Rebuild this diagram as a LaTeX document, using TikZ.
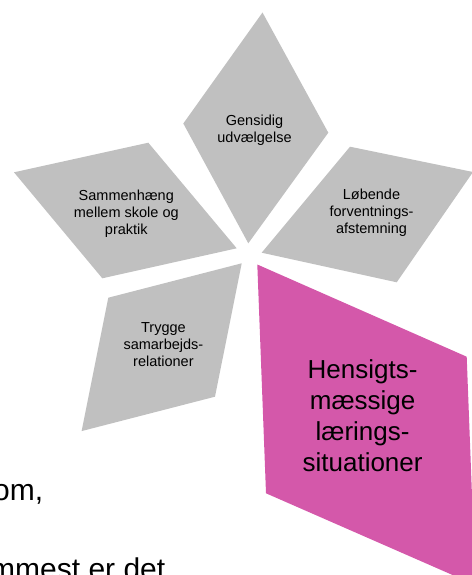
\documentclass[tikz,border=0pt]{standalone}
\usepackage{fontspec}
\setmainfont{Liberation Sans}
\definecolor{petal}{RGB}{192,192,192}
\definecolor{accent}{RGB}{212,88,170}
\begin{document}
\begin{tikzpicture}[x=1pt,y=-1pt,
  petalshape/.style={fill=petal,draw=none},
  accentshape/.style={fill=accent,draw=none},
  smalllabel/.style={align=center,inner sep=0pt,text=black,font=\fontsize{14.5}{16.8}\selectfont},
  biglabel/.style={align=center,inner sep=0pt,text=black,font=\fontsize{26}{31}\selectfont},
  pagetext/.style={inner sep=0pt,anchor=base west,text=black,font=\fontsize{30}{36}\selectfont}]
\useasboundingbox (0,0) rectangle (471,575);
% petals
\fill[petalshape] (262.5,12.5) -- (328.3,132.7) -- (248.3,243.3) -- (183.3,123.5) -- cycle;
\fill[petalshape] (14,172.3) -- (148.3,142.7) -- (236.7,248.3) -- (102.3,278.3) -- cycle;
\fill[petalshape] (350,146.7) -- (473,172) -- (396.7,282.3) -- (261.7,252.7) -- cycle;
\fill[petalshape] (108.3,297.7) -- (241.7,263.3) -- (215,396.7) -- (81.6,431.1) -- cycle;
\fill[accentshape] (257.3,264.5) -- (466.7,356.7) -- (475.4,585) -- (266,493.3) -- cycle;
% labels
\node[smalllabel] (gensidig) at (254.5,130.4) {Gensidig\\udvælgelse};
\node[smalllabel] (sammen) at (126.3,213.7) {Sammenhæng\\mellem skole og\\praktik};
\node[smalllabel] (lobende) at (371.5,212.9) {Løbende\\forventnings-\\afstemning};
\node[smalllabel] (trygge) at (163.4,344.8) {Trygge\\samarbejds-\\relationer};
\node[biglabel] (hensigt) at (362.6,415.7) {Hensigts-\\mæssige\\lærings-\\situationer};
% page text behind
\node[pagetext] (om) at (-7,500) {om,};
\node[pagetext] (mest) at (-10,579) {mmest er det};
\end{tikzpicture}
\end{document}
